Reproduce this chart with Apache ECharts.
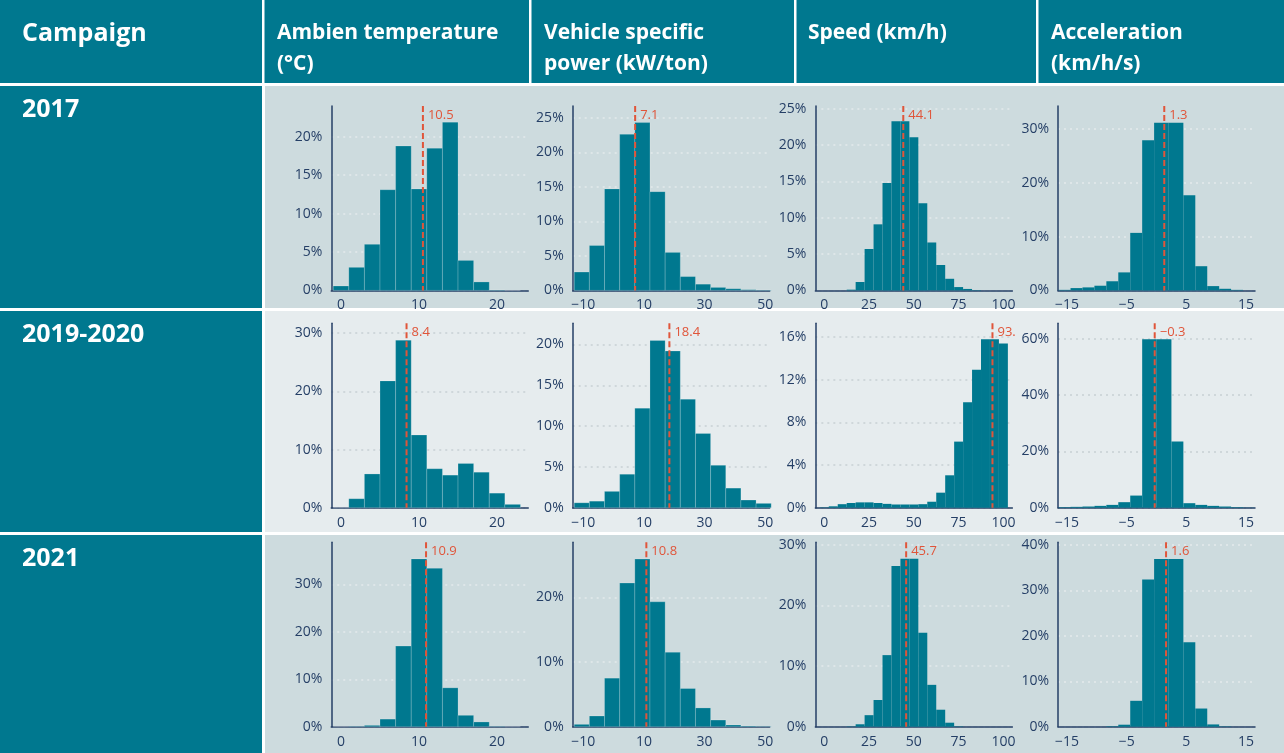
<!DOCTYPE html>
<html><head><meta charset="utf-8">
<script src="https://cdn.jsdelivr.net/npm/echarts@6/dist/echarts.min.js"></script>
<style>html,body{margin:0;padding:0;background:#fff}#c{width:1284px;height:753px}</style>
</head><body><div id="c"></div><script>
// ---------- DATA ----------
const campaigns = ['2017', '2019-2020', '2021'];
const variables = ['Ambien temperature\n(°C)', 'Vehicle specific\npower (kW/ton)', 'Speed (km/h)', 'Acceleration\n(km/h/s)'];
const headerFirst = 'Campaign';

// bin edges (x units)
const tempEdges = [-1, 1, 3, 5, 7, 9, 11, 13, 15, 17, 19, 21, 23];
const vspEdges = [-13, -8, -3, 2, 7, 12, 17, 22, 27, 32, 37, 42, 47, 52];
const speedEdges = [-2.5, 2.5, 7.5, 12.5, 17.5, 22.5, 27.5, 32.5, 37.5, 42.5, 47.5, 52.5, 57.5, 62.5, 67.5, 72.5, 77.5, 82.5, 87.5, 92.5, 97.5, 102.5];
const accelEdgesA = [-16.4, -14.4, -12.4, -10.4, -8.4, -6.4, -4.4, -2.4, -0.4, 2.05, 4.5, 6.5, 8.5, 10.5, 12.5, 14.5, 16.4];
const accelEdgesB = [-16.4, -14.4, -12.4, -10.4, -8.4, -6.4, -4.4, -2.4, 0.05, 2.5, 4.5, 6.5, 8.5, 10.5, 12.5, 14.5, 16.4];

// shares (%) per bin
const temp2017 = [0.57, 3.0, 6.0, 13.1, 18.8, 13.2, 18.5, 21.9, 3.9, 1.1, 0.05, 0];
const temp2019 = [0, 1.54, 5.8, 21.8, 28.8, 12.5, 6.7, 5.6, 7.6, 6.1, 2.5, 0.57];
const temp2021 = [0, 0.07, 0.28, 1.6, 17.0, 35.4, 33.4, 8.2, 2.4, 1.0, 0.07, 0];

const vsp2017 = [2.66, 6.5, 14.7, 22.6, 24.3, 14.3, 5.5, 2.0, 0.9, 0.43, 0.24, 0.1, 0.05];
const vsp2019 = [0.6, 0.8, 2.0, 4.1, 12.2, 20.5, 19.2, 13.3, 9.1, 5.2, 2.4, 0.94, 0.53];
const vsp2021 = [0.36, 1.65, 7.5, 22.2, 25.9, 19.3, 11.5, 5.9, 2.9, 1.03, 0.26, 0.1, 0.05];

const speed2017 = [0, 0, 0, 0.1, 1.16, 5.7, 9.1, 14.8, 23.3, 23.3, 21.1, 12.0, 6.6, 3.5, 1.6, 0.46, 0.2, 0.05, 0, 0, 0];
const speed2019 = [0.03, 0.13, 0.33, 0.44, 0.5, 0.5, 0.44, 0.36, 0.3, 0.3, 0.3, 0.33, 0.56, 1.41, 3.04, 6.2, 9.9, 12.95, 15.8, 15.8, 15.4];
const speed2021 = [0, 0, 0, 0.05, 0.4, 1.9, 4.4, 11.8, 26.5, 27.7, 27.7, 15.5, 6.9, 2.8, 0.66, 0.06, 0, 0, 0, 0, 0];

const accel2017 = [0.1, 0.43, 0.56, 0.87, 1.7, 3.35, 10.7, 27.95, 31.2, 31.2, 17.7, 4.5, 0.8, 0.3, 0.1, 0];
const accel2019 = [0.18, 0.3, 0.42, 0.65, 1.0, 1.96, 4.3, 59.7, 59.7, 23.5, 1.6, 1.0, 0.65, 0.42, 0.18, 0.05];
const accel2021 = [0, 0, 0, 0, 0.1, 0.44, 5.7, 32.4, 36.9, 36.9, 18.6, 4.0, 0.5, 0.07, 0, 0];

// means (x units) and their labels
const means2017 = [10.5, 7.1, 44.1, 1.3];
const means2019 = [8.4, 18.4, 93.9, -0.3];
const means2021 = [10.9, 10.8, 45.7, 1.6];
const meanLabels2017 = ['10.5', '7.1', '44.1', '1.3'];
const meanLabels2019 = ['8.4', '18.4', '93.', '\u22120.3'];
const meanLabels2021 = ['10.9', '10.8', '45.7', '1.6'];

// y-axis extents and tick steps (%)
const yMax2017 = [24, 26.7, 25.4, 34.3];
const yMax2019 = [31.7, 22.6, 17.3, 65.4];
const yMax2021 = [38.9, 28.5, 30.4, 40.6];
const yStep2017 = [5, 5, 5, 10];
const yStep2019 = [10, 5, 4, 20];
const yStep2021 = [10, 10, 10, 10];

// x-axis tick labels
const tempTicks = [0, 10, 20];
const vspTicks = [-10, 10, 30, 50];
const speedTicks = [0, 25, 50, 75, 100];
const accelTicks = [-15, -5, 5, 15];

// ---------- LAYOUT / STYLE ----------
const TEAL = '#00788f', BAR = '#00788f', RED = '#e0553a', AX = '#253f66';
const ROW_BG = ['#cddbde', '#e6ecee', '#cddbde'];
const GRID_COL = ['#e3eaec', '#c7d0d4', '#e3eaec'];
const FONT = '"Open Sans", Lato, sans-serif';
const rowTops = [106, 323.3, 542.3];
const plotH = 184.4;
const colLefts = [331.25, 572.7, 815.35, 1058];
const plotW = 197;
const rowBands = [[86, 308], [311, 532], [535, 753]];
const colSeps = [263, 530, 795, 1037];

const xCfg = [
  {min: -1.25, max: 24, step: 1.25, ticks: tempTicks, edges: [tempEdges, tempEdges, tempEdges], border: true},
  {min: -13.5, max: 51.5, step: 0.5, ticks: vspTicks, edges: [vspEdges, vspEdges, vspEdges], border: true},
  {min: -5, max: 105, step: 5, ticks: speedTicks, edges: [speedEdges, speedEdges, speedEdges], border: false},
  {min: -16.5, max: 16.5, step: 0.5, ticks: accelTicks, edges: [accelEdgesA, accelEdgesB, accelEdgesA], border: false}
];
const heights = [
  [temp2017, vsp2017, speed2017, accel2017],
  [temp2019, vsp2019, speed2019, accel2019],
  [temp2021, vsp2021, speed2021, accel2021]
];
const means = [means2017, means2019, means2021];
const meanLabels = [meanLabels2017, meanLabels2019, meanLabels2021];
const yMax = [yMax2017, yMax2019, yMax2021];
const yStep = [yStep2017, yStep2019, yStep2021];

function fmtNum(v) { return v < 0 ? '\u2212' + Math.abs(v) : String(v); }

const grids = [], xAxes = [], yAxes = [], series = [];
for (let r = 0; r < 3; r++) {
  for (let c = 0; c < 4; c++) {
    const idx = grids.length;
    const xc = xCfg[c];
    grids.push({left: colLefts[c], top: rowTops[r], width: plotW, height: plotH, containLabel: false});
    xAxes.push({
      type: 'value', gridIndex: idx, min: xc.min, max: xc.max, interval: xc.step,
      axisLine: {show: true, onZero: false, lineStyle: {color: AX, width: 1.5}},
      axisTick: {show: false}, splitLine: {show: false},
      axisLabel: {
        interval: 0, hideOverlap: false, margin: 8, color: AX, fontSize: 14, fontFamily: FONT,
        formatter: (v) => {
          for (const t of xc.ticks) if (Math.abs(v - t) < 1e-6) return fmtNum(t);
          return '';
        }
      }
    });
    yAxes.push({
      type: 'value', gridIndex: idx, min: 0, max: yMax[r][c], interval: yStep[r][c],
      axisLine: {show: true, onZero: false, lineStyle: {color: AX, width: 1.5}},
      axisTick: {show: false},
      splitLine: {show: true, showMaxLine: false, lineStyle: {color: GRID_COL[r], type: [2, 4], width: 1.5}},
      axisLabel: {showMaxLabel: false, margin: 9, color: AX, fontSize: 14, fontFamily: FONT, formatter: (v) => v + '%'}
    });
    const edges = xc.edges[r];
    const data = heights[r][c].map((h, i) => [edges[i], edges[i + 1], h]);
    const border = xc.border;
    series.push({
      type: 'custom', xAxisIndex: idx, yAxisIndex: idx, data: data, z: 2,
      encode: {x: [0, 1], y: 2},
      renderItem: (params, api) => {
        const p0 = api.coord([api.value(0), api.value(2)]);
        const p1 = api.coord([api.value(1), 0]);
        return {type: 'rect', shape: {x: p0[0], y: p0[1], width: p1[0] - p0[0], height: p1[1] - p0[1]},
          style: {fill: BAR, stroke: border ? 'rgba(255,255,255,0.18)' : null, lineWidth: border ? 1 : 0}};
      }
    });
    const ymax = yMax[r][c];
    const lab = meanLabels[r][c];
    series.push({
      type: 'custom', xAxisIndex: idx, yAxisIndex: idx, data: [[means[r][c], ymax]], z: 5,
      encode: {x: 0, y: 1},
      renderItem: (params, api) => {
        const top = api.coord([api.value(0), ymax]);
        const bot = api.coord([api.value(0), 0]);
        return {type: 'group', children: [
          {type: 'line', shape: {x1: top[0], y1: top[1], x2: bot[0], y2: bot[1]},
            style: {stroke: RED, lineWidth: 2, lineDash: [6, 3]}},
          {type: 'text', x: top[0] + 5, y: top[1] + 9,
            style: {text: lab, fill: RED, font: '13px ' + FONT, textVerticalAlign: 'middle', textAlign: 'left'}}
        ]};
      }
    });
  }
}

// ---------- FRAME (table background and text) ----------
const graphics = [];
graphics.push({type: 'rect', z: -10, shape: {x: 0, y: 0, width: 1284, height: 83}, style: {fill: TEAL}});
for (const sx of colSeps) graphics.push({type: 'rect', z: -9, shape: {x: sx - 1, y: 0, width: 2.5, height: 83}, style: {fill: '#ffffff'}});
for (let r = 0; r < 3; r++) {
  const [y0, y1] = rowBands[r];
  graphics.push({type: 'rect', z: -10, shape: {x: 0, y: y0, width: 262, height: y1 - y0}, style: {fill: TEAL}});
  graphics.push({type: 'rect', z: -10, shape: {x: 265, y: y0, width: 1019, height: y1 - y0}, style: {fill: ROW_BG[r]}});
  graphics.push({type: 'text', z: 10, x: 22, y: y0 + 24,
    style: {text: campaigns[r], fill: '#ffffff', font: 'bold 25px ' + FONT, textVerticalAlign: 'middle'}});
}
graphics.push({type: 'text', z: 10, x: 22, y: 34,
  style: {text: headerFirst, fill: '#ffffff', font: 'bold 25px ' + FONT, textVerticalAlign: 'middle'}});
const headX = [277, 544, 808, 1051];
variables.forEach((t, i) => {
  graphics.push({type: 'text', z: 10, x: headX[i], y: 18,
    style: {text: t, fill: '#ffffff', font: 'bold 21px ' + FONT, lineHeight: 31, textVerticalAlign: 'top'}});
});

const chart = echarts.init(document.getElementById('c'), null, {renderer: 'canvas'});
chart.setOption({
  animation: false,
  backgroundColor: '#ffffff',
  grid: grids, xAxis: xAxes, yAxis: yAxes, series: series,
  graphic: {elements: graphics}
});
</script></body></html>
